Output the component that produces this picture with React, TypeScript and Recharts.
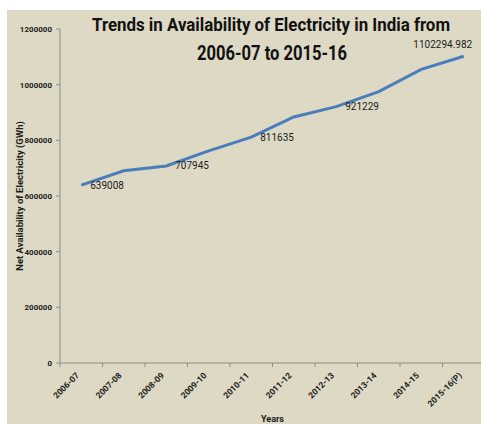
import React from "react";
import { LineChart, Line, XAxis, YAxis, LabelList } from "recharts";

const years = [
  "2006-07",
  "2007-08",
  "2008-09",
  "2009-10",
  "2010-11",
  "2011-12",
  "2012-13",
  "2013-14",
  "2014-15",
  "2015-16(P)",
];
const availability = [
  639008, 690500, 707945, 762000, 811635, 884000, 921229, 975000, 1055000,
  1102294.982,
];
const pointLabels = [
  "639008",
  "",
  "707945",
  "",
  "811635",
  "",
  "921229",
  "",
  "",
  "1102294.982",
];
const yTicks = [0, 200000, 400000, 600000, 800000, 1000000, 1200000];

const data = years.map((year, i) => ({
  year,
  value: availability[i],
  label: pointLabels[i],
}));

const FONT = "Roboto, 'Liberation Sans', sans-serif";
const AXIS_GRAY = "#8c8c8c";
const TEXT_DARK = "#1c1c1c";

const XTick = (props: any) => {
  const { x, y, payload } = props;
  const half = payload?.offset || 21.25;
  const ax = x - 1.5;
  const ay = y + 13;
  return (
    <g>
      <line x1={x - half} x2={x - half} y1={y} y2={y + 4} stroke={AXIS_GRAY} />
      <text
        x={ax}
        y={ay}
        textAnchor="end"
        transform={`rotate(-45, ${ax}, ${ay})`}
        fontFamily={FONT}
        fontSize={8.5}
        fontWeight="bold"
        fill={TEXT_DARK}
      >
        {payload.value}
      </text>
    </g>
  );
};

const PointLabel = (props: any) => {
  const { x, y, index } = props;
  const text = pointLabels[index];
  if (!text) return null;
  const last = index === pointLabels.length - 1;
  return (
    <text
      x={last ? x - 21 : x + 9}
      y={last ? y - 12 : y}
      dy="0.35em"
      textAnchor={last ? "middle" : "start"}
      fontFamily={FONT}
      fontSize={10}
      fill={TEXT_DARK}
    >
      {text}
    </text>
  );
};

export default function App() {
  return (
    <div
      style={{
        position: "absolute",
        left: 0,
        top: 0,
        width: 481,
        height: 424,
        overflow: "hidden",
        background: "#ffffff",
      }}
    >
      <div
        style={{
          position: "absolute",
          left: 7,
          top: 10,
          right: 0,
          bottom: 0,
          background: "#ddd9c4",
        }}
      />
      <div style={{ position: "absolute", left: 0, top: 0 }}>
        <LineChart
          width={490}
          height={424}
          data={data}
          margin={{ top: 29, right: 5, bottom: 0, left: 0 }}
        >
          <XAxis
            dataKey="year"
            scale="band"
            interval={0}
            height={61}
            tickLine={false}
            tickSize={0}
            tickMargin={0}
            axisLine={{ stroke: AXIS_GRAY }}
            tick={<XTick />}
            label={{
              value: "Years",
              position: "insideBottom",
              offset: 2,
              fontFamily: FONT,
              fontSize: 9,
              fontWeight: "bold",
              fill: TEXT_DARK,
            }}
          />
          <YAxis
            width={60}
            domain={[0, 1200000]}
            ticks={yTicks}
            tickSize={4}
            tickMargin={4}
            axisLine={{ stroke: AXIS_GRAY }}
            tickLine={{ stroke: AXIS_GRAY }}
            tick={{
              fontFamily: FONT,
              fontSize: 8,
              fontWeight: "bold",
              fill: TEXT_DARK,
            }}
            label={{
              value: "Net Availability of Electricity (GWh)",
              angle: -90,
              position: "insideLeft",
              offset: 20,
              style: { textAnchor: "middle" },
              fontFamily: FONT,
              fontSize: 9.5,
              fontWeight: "bold",
              fill: TEXT_DARK,
            }}
          />
          <Line
            type="linear"
            dataKey="value"
            stroke="#4a7ebb"
            strokeWidth={3}
            dot={false}
            isAnimationActive={false}
          >
            <LabelList dataKey="label" content={<PointLabel />} />
          </Line>
        </LineChart>
      </div>
      <svg
        width={481}
        height={70}
        style={{ position: "absolute", left: 0, top: 0, pointerEvents: "none" }}
      >
        <text
          x={92}
          y={31}
          textLength={358}
          lengthAdjust="spacingAndGlyphs"
          fontFamily={FONT}
          fontSize={18}
          fontWeight="bold"
          fill="#111111"
        >
          Trends in Availability of Electricity in India from
        </text>
        <text
          x={197}
          y={60}
          textLength={150}
          lengthAdjust="spacingAndGlyphs"
          fontFamily={FONT}
          fontSize={20}
          fontWeight="bold"
          fill="#111111"
        >
          2006-07 to 2015-16
        </text>
      </svg>
    </div>
  );
}
